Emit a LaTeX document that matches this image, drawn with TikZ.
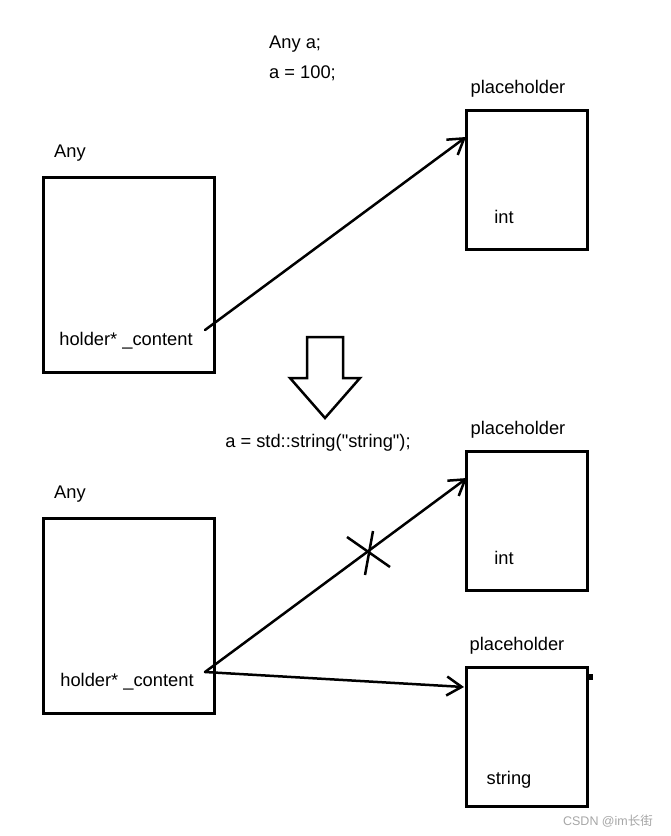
\documentclass[tikz,border=0pt]{standalone}
\usepackage{fontspec}
\setmainfont{Liberation Sans}
\newfontfamily\cjk{Noto Sans CJK SC}
\usetikzlibrary{arrows.meta}
\begin{document}
\begin{tikzpicture}[x=1pt,y=-1pt,
  anybox/.style={draw, line width=3pt, minimum width=171pt, minimum height=195pt, inner sep=0pt},
  phbox/.style={draw, line width=3pt, minimum width=121pt, minimum height=139pt, inner sep=0pt},
  lbl/.style={inner sep=0pt, yshift=-2pt, font=\fontsize{18.3}{21}\selectfont},
  ptr/.style={line width=2.5pt, line cap=round, -{Straight Barb[length=15pt,width=19pt,line width=2.5pt]}},
  cross/.style={line width=2.5pt}]
\useasboundingbox (0,0) rectangle (670,836);
% code text
\node[lbl, anchor=west] (c1) at (269,42) {Any a;};
\node[lbl, anchor=west] (c2) at (269,71) {a = 100;};
% top part
\node[anybox] (any1) at (129,275) {};
\node[lbl] (anyl1) at (70,151) {Any};
\node[lbl] (h1) at (126,339) {holder* \_content};
\node[phbox] (ph1) at (527,180) {};
\node[lbl] (phl1) at (518,87) {placeholder};
\node[lbl] (int1) at (504,215) {int};
\coordinate (s1) at (205,330);
\coordinate (e1) at (466,137);
\draw[ptr] (s1) -- (e1);
% down arrow
\draw[line width=2.5pt, line join=miter] (307,337) -- (343,337) -- (343,378) -- (360,378) -- (325,418) -- (290,378) -- (307,378) -- cycle;
\node[lbl] (c3) at (318,441) {a = std::string(\textquotedbl string\textquotedbl);};
% bottom part
\node[anybox] (any2) at (129,616) {};
\node[lbl] (anyl2) at (70,492) {Any};
\node[lbl] (h2) at (127,680) {holder* \_content};
\node[phbox] (ph2) at (527,521) {};
\node[lbl] (phl2) at (518,428) {placeholder};
\node[lbl] (int2) at (504,556) {int};
\node[phbox] (ph3) at (527,737) {};
\node[lbl] (phl3) at (517,644) {placeholder};
\node[lbl] (str3) at (509,778) {string};
\fill (589,674) rectangle (593,680);
\coordinate (s2) at (205,672);
\coordinate (e2) at (467,478);
\coordinate (e3) at (464,687);
\draw[ptr] (s2) -- (e2);
\draw[ptr] (s2) -- (e3);
\draw[cross] (347,537) -- (390,567);
\draw[cross] (373,531) -- (365,575);
% watermark
\node[inner sep=0pt, text=black!35, font=\fontsize{12.5}{14}\selectfont] (wm) at (608,821) {CSDN @im{\cjk 长街}};
\end{tikzpicture}
\end{document}
